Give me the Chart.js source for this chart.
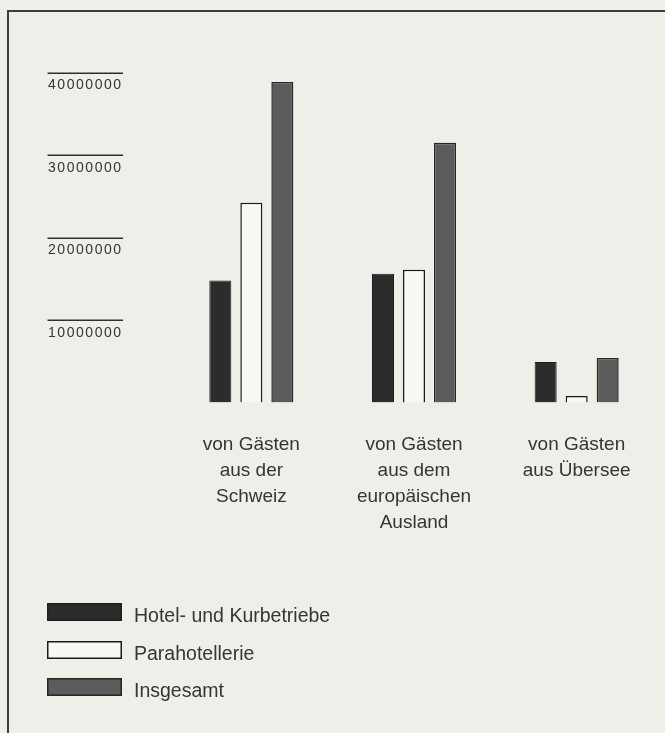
<!DOCTYPE html>
<html><head><meta charset="utf-8">
<script src="https://cdn.jsdelivr.net/npm/chart.js@4"></script>
<style>
html,body{margin:0;padding:0;background:#efeee8;width:665px;height:733px;overflow:hidden}
#frame{position:absolute;left:7px;top:10px;width:700px;height:800px;border-left:2px solid #3d3d3d;border-top:2px solid #3d3d3d}
#wrap{position:absolute;left:0;top:0;width:665px;height:733px}
</style></head><body>
<div id="frame"></div>
<div id="wrap"><canvas id="c" width="665" height="733"></canvas></div>
<script>
const categories = [
  ['von Gästen', 'aus der', 'Schweiz'],
  ['von Gästen', 'aus dem', 'europäischen', 'Ausland'],
  ['von Gästen', 'aus Übersee']
];
const seriesNames = ['Hotel- und Kurbetriebe', 'Parahotellerie', 'Insgesamt'];
const hotelValues = [14800000, 15600000, 4900000];
const paraValues = [24200000, 16100000, 800000];
const totalValues = [38850000, 31500000, 5400000];
const yTickValues = [10000000, 20000000, 30000000, 40000000];
const yTickLabels = ['10000000', '20000000', '30000000', '40000000'];

const FONT = "'Liberation Sans', Arial, Helvetica, sans-serif";
const TEXT = '#353535';

const fills = ['#2c2c2c', '#f8f8f4', '#5b5b5b'];
const borders = ['#1e1e1e', '#1a1a1a', '#262626'];
const widths = [1, 1.5, 1.5];
const seriesValues = [hotelValues, paraValues, totalValues];

const tickLinesAndLegend = {
  id: 'tickLinesAndLegend',
  afterDatasetsDraw(chart) {
    chart.ctx.letterSpacing = '1.55px';
  },
  afterDraw(chart) {
    const ctx = chart.ctx;
    ctx.save();
    ctx.letterSpacing = '0px';
    const y = chart.scales.y;
    ctx.strokeStyle = '#2f2f2f';
    ctx.lineWidth = 1.5;
    yTickValues.forEach(v => {
      const py = Math.round(y.getPixelForValue(v)) + 0.25;
      ctx.beginPath();
      ctx.moveTo(47.5, py);
      ctx.lineTo(123, py);
      ctx.stroke();
    });
    // legend
    const tops = [603, 641, 678];
    ctx.font = '19.5px ' + FONT;
    ctx.textBaseline = 'alphabetic';
    ctx.textAlign = 'left';
    chart.data.datasets.forEach((ds, i) => {
      ctx.fillStyle = ds.backgroundColor;
      ctx.fillRect(47, tops[i], 75, 18);
      ctx.strokeStyle = ds.borderColor;
      ctx.lineWidth = 1.5;
      ctx.strokeRect(47.75, tops[i] + 0.75, 73.5, 16.5);
      ctx.fillStyle = TEXT;
      ctx.fillText(ds.label, 134, tops[i] + 18.5);
    });
    ctx.restore();
    ctx.letterSpacing = '0px';
  }
};

new Chart(document.getElementById('c'), {
  type: 'bar',
  data: {
    labels: categories,
    datasets: seriesNames.map((name, i) => ({
      label: name,
      data: seriesValues[i],
      backgroundColor: fills[i],
      borderColor: borders[i],
      borderWidth: widths[i],
      categoryPercentage: 0.572,
      barPercentage: 0.71
    }))
  },
  options: {
    responsive: false,
    devicePixelRatio: 1,
    animation: false,
    layout: { padding: { left: 48, right: 7, top: 72.5, bottom: 130.5 } },
    plugins: { legend: { display: false }, tooltip: { enabled: false } },
    scales: {
      x: {
        grid: { display: false, drawTicks: false },
        border: { display: false },
        ticks: {
          color: TEXT,
          font: { family: FONT, size: 19, lineHeight: '26px' },
          padding: 29,
          maxRotation: 0,
          autoSkip: false
        },
        afterFit(s) { s.height = 200; }
      },
      y: {
        min: 0,
        max: 40000000,
        grid: { display: false, drawTicks: false },
        border: { display: false },
        afterBuildTicks(s) { s.ticks = yTickValues.map(v => ({ value: v })); },
        afterFit(s) { s.width = 122; },
        ticks: {
          z: 1,
          crossAlign: 'far',
          labelOffset: 13,
          padding: 0,
          color: TEXT,
          font: { family: FONT, size: 14 },
          callback(v) {
            const i = yTickValues.indexOf(v);
            return i >= 0 ? yTickLabels[i] : '';
          }
        }
      }
    }
  },
  plugins: [tickLinesAndLegend]
});
</script>
</body></html>
